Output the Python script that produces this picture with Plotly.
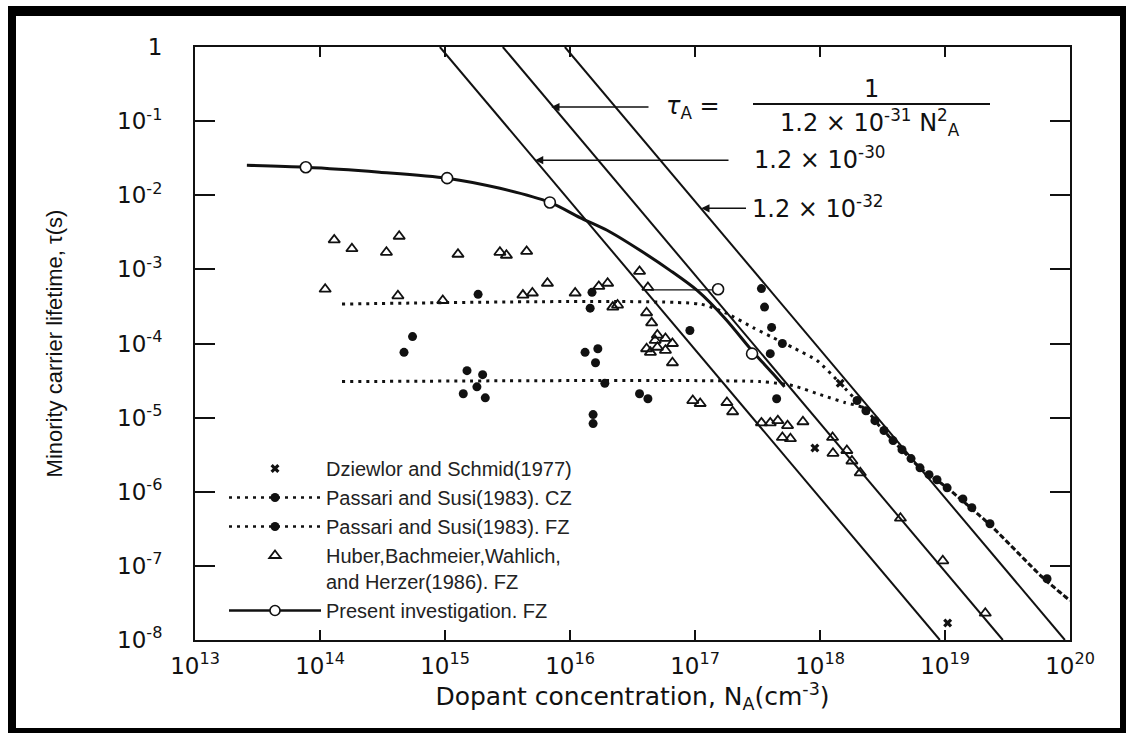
import plotly.graph_objects as go

# ---------------- data ----------------
# Auger lines tau = 1/(C N^2): endpoints (N, tau)
auger_C = ["1.2e-30", "1.2e-31", "1.2e-32"]
auger_N = [[9.1e14, 9.1e18], [2.9e15, 2.9e19], [9.1e15, 9.1e19]]
auger_tau = [[1.0, 1e-8], [1.0, 1e-8], [1.0, 1e-8]]

# Present investigation (FZ): fitted curve + measured points
present_curve_N = [2.6e13, 7.7e13, 3.0e14, 1.04e15, 2.75e15, 6.9e15, 1.2e16, 1.98e16,
                   3.63e16, 6.31e16, 1.04e17, 1.74e17, 2.86e17, 4.21e17, 5.2e17]
present_curve_tau = [0.0254, 0.0239, 0.0205, 0.0170, 0.0124, 0.0080, 0.0050, 0.00337,
                     0.00181, 9.7e-4, 5.2e-4, 2.18e-4, 8.0e-5, 3.9e-5, 2.6e-5]
present_pts_N = [7.7e13, 1.04e15, 6.9e15, 1.53e17, 2.86e17]
present_pts_tau = [0.0239, 0.0170, 0.0080, 5.4e-4, 7.3e-5]
present_range_N = [4.4e16, 1.4e17]
present_range_tau = [5.3e-4, 5.3e-4]

# Passari and Susi (1983) FZ: dotted model curve + data
pfz_curve_N = [1.5e14, 1.1e17, 1.8e17, 2.91e17, 4.21e17, 6.08e17, 9.46e17, 1.45e18, 2.21e18,
               3.63e18, 6.31e18, 1.04e19, 2.29e19, 6.08e19, 1e20]
pfz_curve_tau = [3.4e-4, 3.4e-4, 2.54e-4, 1.64e-4, 1.2e-4, 8.8e-5, 5.9e-5, 2.9e-5, 1.36e-5,
                 5.4e-6, 2.1e-6, 1.13e-6, 3.58e-7, 6.9e-8, 3.4e-8]
pfz_N = [1.84e15, 1.5e16, 1.45e16, 9.1e16, 3.4e17, 3.6e17, 4.1e17, 5.0e17, 4.0e17,
         1.98e18, 2.33e18, 2.75e18, 3.25e18, 3.84e18, 4.53e18, 5.35e18, 6.31e18, 7.45e18,
         8.63e18, 1.04e19, 1.39e19, 1.64e19, 2.29e19, 6.55e19]
pfz_tau = [4.6e-4, 4.9e-4, 3.0e-4, 1.5e-4, 5.5e-4, 3.1e-4, 1.65e-4, 1.0e-4, 7.3e-5,
           1.7e-5, 1.24e-5, 9.1e-6, 6.7e-6, 4.9e-6, 3.7e-6, 2.8e-6, 2.1e-6, 1.7e-6,
           1.45e-6, 1.13e-6, 8.0e-7, 6.1e-7, 3.7e-7, 6.7e-8]

# Passari and Susi (1983) CZ: dotted model curve + data
pcz_curve_N = [1.5e14, 3.31e17, 6.08e17, 1.06e18, 1.58e18, 2.21e18, 3.63e18, 6.31e18,
               1.04e19, 2.29e19, 6.08e19, 1e20]
pcz_curve_tau = [3.06e-5, 3.06e-5, 2.7e-5, 1.98e-5, 1.6e-5, 1.36e-5, 5.4e-6, 2.1e-6,
                 1.13e-6, 3.58e-7, 6.9e-8, 3.4e-8]
pcz_N = [5.5e14, 4.7e14, 1.5e15, 2.0e15, 1.8e15, 1.4e15, 2.1e15, 1.32e16, 1.67e16, 1.6e16,
         1.9e16, 1.53e16, 1.53e16, 3.6e16, 4.2e16, 4.5e17]
pcz_tau = [1.24e-4, 7.6e-5, 4.3e-5, 3.8e-5, 2.6e-5, 2.1e-5, 1.85e-5, 7.6e-5, 8.5e-5, 5.5e-5,
           2.9e-5, 1.1e-5, 8.3e-6, 2.1e-5, 1.8e-5, 1.8e-5]

# Dziewior and Schmid (1977)
dz_N = [9.1e17, 1.45e18, 1.05e19]
dz_tau = [3.9e-6, 2.9e-5, 1.7e-8]

# Huber, Bachmeier, Wahlich and Herzer (1986) FZ
hu_N = [1.3e14, 1.8e14, 4.3e14, 3.4e14, 1.27e15, 2.75e15, 3.1e15, 4.5e15, 1.1e14, 4.2e14,
        9.6e14, 4.2e15, 5.0e15, 6.6e15, 1.1e16, 1.7e16, 2.0e16, 2.2e16, 2.4e16, 3.6e16,
        4.2e16, 4.1e16, 4.5e16, 5.0e16, 5.8e16, 4.8e16, 6.6e16, 4.1e16, 5.0e16, 5.8e16,
        4.4e16, 6.6e16, 9.6e16, 1.1e17, 1.8e17, 2.0e17, 3.4e17, 4.0e17, 4.6e17, 5.5e17,
        5.0e17, 5.8e17, 7.3e17, 1.26e18, 1.27e18, 1.64e18, 1.8e18, 2.1e18, 4.4e18, 9.6e18,
        2.1e19]
hu_tau = [2.5e-3, 1.9e-3, 2.8e-3, 1.7e-3, 1.6e-3, 1.7e-3, 1.55e-3, 1.75e-3, 5.4e-4, 4.4e-4,
          3.8e-4, 4.5e-4, 4.8e-4, 6.5e-4, 4.8e-4, 5.9e-4, 6.5e-4, 3.1e-4, 3.3e-4, 9.4e-4,
          5.7e-4, 2.6e-4, 1.9e-4, 1.3e-4, 1.17e-4, 1.1e-4, 1.0e-4, 8.5e-5, 8.9e-5, 8.1e-5,
          7.6e-5, 5.5e-5, 1.7e-5, 1.55e-5, 1.6e-5, 1.2e-5, 8.5e-6, 8.5e-6, 9.1e-6, 7.8e-6,
          5.4e-6, 5.2e-6, 8.8e-6, 5.4e-6, 3.3e-6, 3.6e-6, 2.6e-6, 1.8e-6, 4.4e-7, 1.17e-7,
          2.3e-8]

x_tickvals = [1e13, 1e14, 1e15, 1e16, 1e17, 1e18, 1e19, 1e20]
x_ticktext = ["10<sup>13</sup>", "10<sup>14</sup>", "10<sup>15</sup>", "10<sup>16</sup>",
              "10<sup>17</sup>", "10<sup>18</sup>", "10<sup>19</sup>", "10<sup>20</sup>"]
y_tickvals = [1, 1e-1, 1e-2, 1e-3, 1e-4, 1e-5, 1e-6, 1e-7, 1e-8]
y_ticktext = ["1", "10<sup>-1</sup>", "10<sup>-2</sup>", "10<sup>-3</sup>", "10<sup>-4</sup>",
              "10<sup>-5</sup>", "10<sup>-6</sup>", "10<sup>-7</sup>", "10<sup>-8</sup>"]

legend_names = ["Dziewlor and Schmid(1977)", "Passari and Susi(1983). CZ",
                "Passari and Susi(1983). FZ", "Huber,Bachmeier,Wahlich,<br>and Herzer(1986). FZ",
                "Present investigation. FZ"]

# ---------------- layout helpers ----------------
W, H = 1127, 733
L, R, T, B = 195, 1070, 47, 640


def px(x):
    return (x - L) / (R - L)


def py(y):
    return (B - y) / (B - T)


INK = "#111111"
fig = go.Figure()

# Auger lines
for N, tau in zip(auger_N, auger_tau):
    fig.add_trace(go.Scatter(x=N, y=tau, mode="lines", line=dict(color=INK, width=2),
                             showlegend=False, hoverinfo="skip"))

dot = "3px,5px"
# Passari dotted curves
fig.add_trace(go.Scatter(x=pcz_curve_N, y=pcz_curve_tau, mode="lines",
                         line=dict(color=INK, width=3, dash=dot, shape="spline", smoothing=0.6),
                         showlegend=False))
fig.add_trace(go.Scatter(x=pfz_curve_N, y=pfz_curve_tau, mode="lines",
                         line=dict(color=INK, width=3, dash=dot, shape="spline", smoothing=0.6),
                         showlegend=False))

# Present curve
fig.add_trace(go.Scatter(x=present_curve_N, y=present_curve_tau, mode="lines",
                         line=dict(color=INK, width=3, shape="spline", smoothing=0.8),
                         showlegend=False))
fig.add_trace(go.Scatter(x=present_range_N, y=present_range_tau, mode="lines",
                         line=dict(color=INK, width=1.3), showlegend=False))

# data markers
fig.add_trace(go.Scatter(x=dz_N, y=dz_tau, mode="markers", name=legend_names[0],
                         marker=dict(symbol="x", size=8, color=INK, line=dict(width=0))))
fig.add_trace(go.Scatter(x=pcz_N, y=pcz_tau, mode="markers", showlegend=False,
                         marker=dict(symbol="circle", size=9, color=INK)))
fig.add_trace(go.Scatter(x=pfz_N, y=pfz_tau, mode="markers", showlegend=False,
                         marker=dict(symbol="circle", size=9, color=INK)))
# legend entries for Passari
fig.add_trace(go.Scatter(x=[None], y=[None], mode="lines+markers", name=legend_names[1],
                         line=dict(color=INK, width=2.5, dash=dot),
                         marker=dict(symbol="circle", size=9, color=INK)))
fig.add_trace(go.Scatter(x=[None], y=[None], mode="lines+markers", name=legend_names[2],
                         line=dict(color=INK, width=2.5, dash=dot),
                         marker=dict(symbol="circle", size=9, color=INK)))
fig.add_trace(go.Scatter(x=hu_N, y=hu_tau, mode="markers", name=legend_names[3],
                         marker=dict(symbol="triangle-up-open", size=10, color=INK,
                                     line=dict(width=1.8, color=INK))))
fig.add_trace(go.Scatter(x=present_pts_N, y=present_pts_tau, mode="markers", showlegend=False,
                         marker=dict(symbol="circle", size=11, color="white",
                                     line=dict(width=1.6, color=INK))))
fig.add_trace(go.Scatter(x=[None], y=[None], mode="lines+markers", name=legend_names[4],
                         line=dict(color=INK, width=2.5),
                         marker=dict(symbol="circle", size=10, color="white",
                                     line=dict(width=1.6, color=INK))))

tick_font = dict(family="DejaVu Sans", size=23, color=INK)
label_font = dict(family="DejaVu Sans", size=24, color=INK)
annotations = []
# arrows pointing at the Auger lines (head on line, tail to the right), log10 coords
arrow_specs = [(15.85, -0.811, 16.64), (15.72, -1.527, 17.28), (17.05, -2.176, 17.42)]
for hx, hy, tx in arrow_specs:
    annotations.append(dict(x=hx, y=hy, ax=tx, ay=hy, xref="x", yref="y", axref="x", ayref="y",
                            text="", showarrow=True, arrowhead=2, arrowsize=1.1,
                            arrowwidth=1.5, arrowcolor=INK))
annotations += [
    dict(x=px(664), y=py(108), xref="paper", yref="paper", xanchor="left", yanchor="middle",
         text="<i>τ</i><sub>A</sub> =", showarrow=False, font=label_font),
    dict(x=px(871), y=py(89), xref="paper", yref="paper", xanchor="center", yanchor="middle",
         text="1", showarrow=False, font=label_font),
    dict(x=px(870), y=py(123), xref="paper", yref="paper", xanchor="center", yanchor="middle",
         text="1.2 × 10<sup>-31</sup> N<sup>2</sup><sub>A</sub>", showarrow=False, font=label_font),
    dict(x=px(752), y=py(158), xref="paper", yref="paper", xanchor="left", yanchor="middle",
         text="1.2 × 10<sup>-30</sup>", showarrow=False, font=label_font),
    dict(x=px(750), y=py(207), xref="paper", yref="paper", xanchor="left", yanchor="middle",
         text="1.2 × 10<sup>-32</sup>", showarrow=False, font=label_font),
]

shapes = [
    dict(type="line", xref="paper", yref="paper", x0=px(753), x1=px(990), y0=py(104), y1=py(104),
         line=dict(color=INK, width=2)),
]
# outer frame of the picture
for x0, x1, y0, y1 in [(8, 16, 6, 733), (8, 1126, 6, 16), (1120, 1126, 6, 733), (8, 1126, 728, 733)]:
    shapes.append(dict(type="rect", xref="paper", yref="paper", x0=px(x0), x1=px(x1),
                       y0=py(y1), y1=py(y0), fillcolor="black", line=dict(width=0), layer="above"))

axis_common = dict(type="log", showgrid=False, zeroline=False, showline=True, linecolor=INK,
                   linewidth=2, mirror="ticks", ticks="inside", tickcolor=INK, tickwidth=2,
                   tickfont=tick_font)

fig.update_layout(
    width=W, height=H,
    margin=dict(l=L, r=W - R, t=T, b=H - B),
    paper_bgcolor="white", plot_bgcolor="white",
    xaxis=dict(axis_common, range=[13, 20], tickvals=x_tickvals, ticktext=x_ticktext,
               ticklen=10, ticklabelstandoff=4,
               title=dict(text="Dopant concentration, N<sub>A</sub>(cm<sup>-3</sup>)",
                          font=dict(family="DejaVu Sans", size=25, color=INK), standoff=8)),
    yaxis=dict(axis_common, range=[-8, 0], tickvals=y_tickvals, ticktext=y_ticktext,
               ticklen=20, ticklabelstandoff=26,
               title=dict(text="Minority carrier lifetime, τ(s)",
                          font=dict(family="Liberation Sans", size=22, color=INK), standoff=48)),
    legend=dict(x=px(224), y=py(449), xanchor="left", yanchor="top", bgcolor="rgba(0,0,0,0)",
                font=dict(family="Liberation Sans", size=20, color="#222222"),
                itemwidth=92, traceorder="normal", borderwidth=0, valign="top"),
    annotations=annotations,
    shapes=shapes,
    showlegend=True,
)

fig.write_html("out.html")
